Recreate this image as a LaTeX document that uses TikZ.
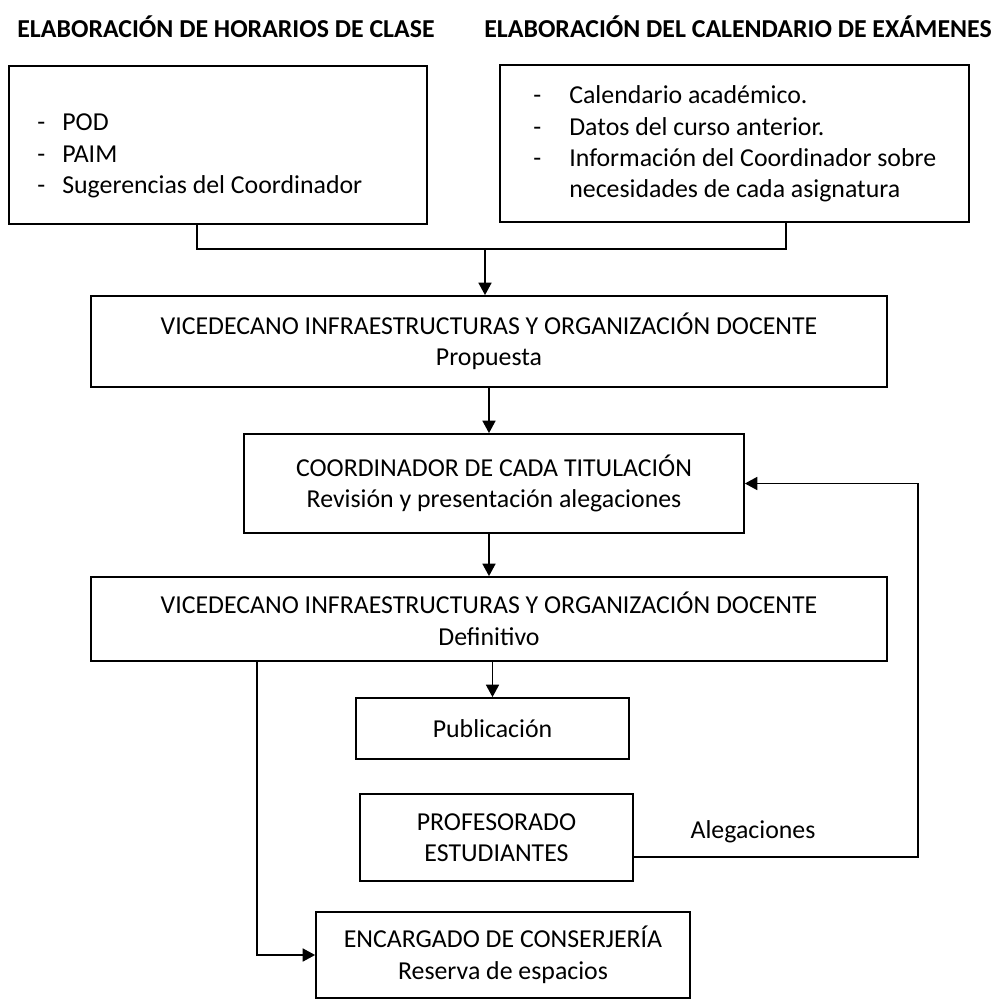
\documentclass[tikz,border=0pt]{standalone}
\usepackage{fontspec}
\setmainfont{Carlito}
\usetikzlibrary{arrows.meta}

\begin{document}
\begin{tikzpicture}[
        x=0.02cm, y=-0.02cm,
        caja/.style={rectangle, draw, line width=1pt, align=center, inner sep=0pt, font=\fontsize{14.7}{17.9}\selectfont},
        lista/.style={anchor=west, align=left, inner sep=0pt, font=\fontsize{14.7}{17.9}\selectfont},
        titulo/.style={inner sep=0pt, font=\fontsize{14.7}{17.9}\selectfont\bfseries},
        linea/.style={line width=1pt},
        flecha/.style={-{Triangle[length=0.25cm, width=0.26cm]}, line width=1pt}
    ]
    \useasboundingbox (0,0) rectangle (1000,1000);

    % Titulos
    \node[titulo] (titA) at (226,27) {ELABORACIÓN DE HORARIOS DE CLASE};
    \node[titulo] (titB) at (738,27) {ELABORACIÓN DEL CALENDARIO DE EXÁMENES};

    % Datos de entrada
    \node[caja, minimum width=8.36cm, minimum height=3.16cm] (horarios) at (218,145) {};
    \node[lista] (listaA) at (37,156) {\makebox[0.5cm][l]{-}POD\\
        \makebox[0.5cm][l]{-}PAIM\\
        \makebox[0.5cm][l]{-}Sugerencias del Coordinador};
    \node[caja, minimum width=9.38cm, minimum height=3.14cm] (examenes) at (734.5,143.5) {};
    \node[lista] (listaB) at (533,144) {\makebox[0.72cm][l]{-}Calendario académico.\\
        \makebox[0.72cm][l]{-}Datos del curso anterior.\\
        \makebox[0.72cm][l]{-}Información del Coordinador sobre\\
        \makebox[0.72cm][l]{}necesidades de cada asignatura};

    % Proceso
    \node[caja, minimum width=15.92cm, minimum height=1.82cm] (propuesta) at (489,341.5) {VICEDECANO INFRAESTRUCTURAS Y ORGANIZACIÓN DOCENTE\\ Propuesta};
    \node[caja, minimum width=10cm, minimum height=1.98cm] (coord) at (494,483.5) {COORDINADOR DE CADA TITULACIÓN\\ Revisión y presentación alegaciones};
    \node[caja, minimum width=15.92cm, minimum height=1.68cm] (definitivo) at (489,619) {VICEDECANO INFRAESTRUCTURAS Y ORGANIZACIÓN DOCENTE\\ Definitivo};
    \node[caja, minimum width=5.46cm, minimum height=1.22cm] (publi) at (492.5,728.5) {Publicación};
    \node[caja, minimum width=5.46cm, minimum height=1.74cm] (profes) at (496.5,837.5) {PROFESORADO\\ ESTUDIANTES};
    \node[caja, minimum width=7.48cm, minimum height=1.72cm] (conserje) at (503,955) {ENCARGADO DE CONSERJERÍA\\ Reserva de espacios};
    \node[lista, anchor=center] (aleg) at (753,832) {Alegaciones};

    % Conectores
    \coordinate (union) at (485,249);
    \draw[linea] ([xshift=-0.42cm]horarios.south) |- (union) -| ([xshift=1.03cm]examenes.south);
    \draw[flecha] (union) -- (union |- propuesta.north);
    \draw[flecha] (propuesta.south) -- (propuesta.south |- coord.north);
    \draw[flecha] (definitivo.north |- coord.south) -- (definitivo.north);
    \draw[flecha] (definitivo.south -| publi) -- (publi.north);
    \draw[flecha] ([yshift=-0.39cm]profes.east) -- ++(284,0) |- (coord.east);
    \draw[flecha] ([xshift=-4.64cm]definitivo.south) |- (conserje.west);

\end{tikzpicture}
\end{document}
